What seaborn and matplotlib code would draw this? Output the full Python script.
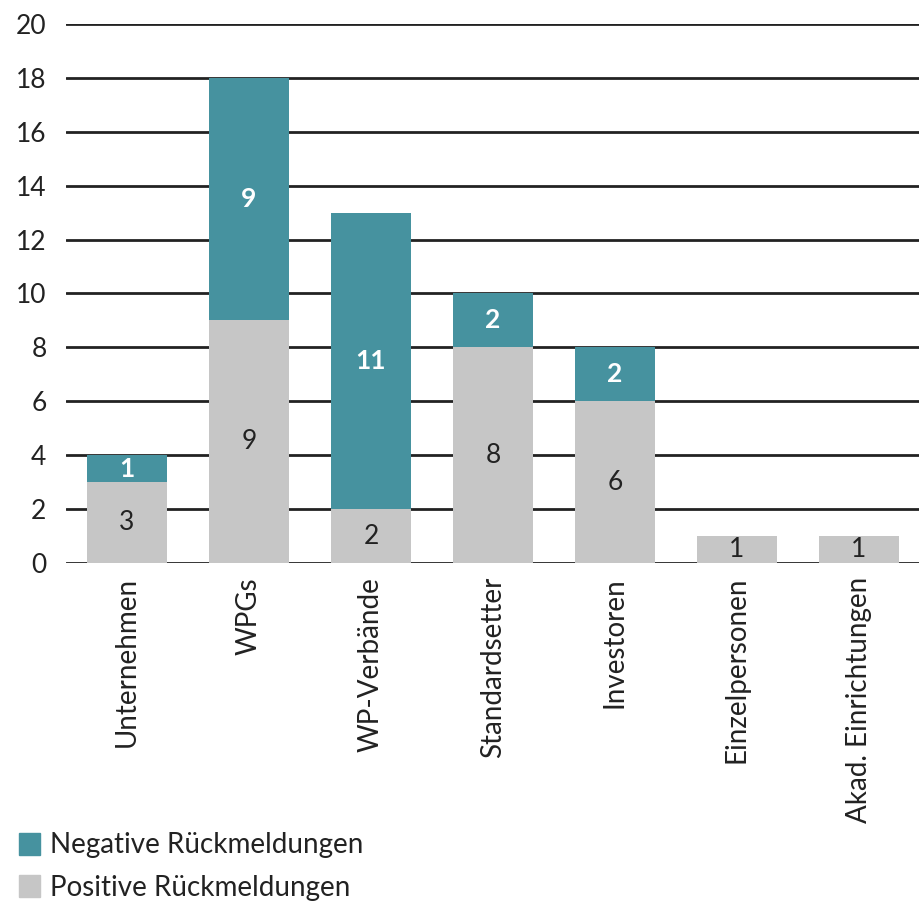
import matplotlib
matplotlib.use('Agg')
import matplotlib.pyplot as plt
import seaborn as sns
import pandas as pd
from matplotlib.patches import Patch

categories = ['Unternehmen', 'WPGs', 'WP-Verbände', 'Standardsetter',
              'Investoren', 'Einzelpersonen', 'Akad. Einrichtungen']
positive = [3, 9, 2, 8, 6, 1, 1]
negative = [1, 9, 11, 2, 2, 0, 0]
yticks = [0, 2, 4, 6, 8, 10, 12, 14, 16, 18, 20]

teal = '#46929f'
grey = '#c6c6c6'

sns.set_theme(style='white')
plt.rcParams['font.family'] = ['Lato', 'DejaVu Sans']

df = pd.DataFrame({'cat': categories, 'pos': positive, 'neg': negative})

fig = plt.figure(figsize=(9.2, 9.06), dpi=100)
ax = fig.add_axes([0.0717, 0.3786, 0.9283, 0.5949])

for y in yticks:
    ax.axhline(y, color='#222222', lw=2, zorder=0)

sns.barplot(data=df, x='cat', y='pos', color=grey, width=0.655,
            saturation=1, ax=ax, zorder=2, linewidth=0)
sns.barplot(data=df, x='cat', y='neg', bottom=df['pos'], color=teal, width=0.655,
            saturation=1, ax=ax, zorder=2, linewidth=0)

for i, (p, n) in enumerate(zip(positive, negative)):
    if p:
        ax.text(i, p / 2, str(p), ha='center', va='center', fontsize=19,
                color='#222222', zorder=3)
    if n:
        ax.text(i, p + n / 2, str(n), ha='center', va='center', fontsize=19,
                color='white', fontweight='bold', zorder=3)

ax.set_xlim(-0.5, len(categories) - 0.5)
ax.set_ylim(0, 20)
ax.set_yticks(yticks)
ax.set_xlabel('')
ax.set_ylabel('')
ax.tick_params(axis='y', labelsize=19, colors='#222222', length=0, pad=14)
ax.tick_params(axis='x', labelsize=20, colors='#222222', length=0, pad=10)
ax.set_xticks(range(len(categories)))
ax.set_xticklabels(categories, rotation=90, va='top')
sns.despine(ax=ax, left=True, bottom=True)

handles = [Patch(color=teal, label='Negative Rückmeldungen'),
           Patch(color=grey, label='Positive Rückmeldungen')]
fig.legend(handles=handles, loc='lower left', bbox_to_anchor=(-0.006, -0.022),
           frameon=False, fontsize=20, handlelength=0.75, handleheight=0.85,
           handletextpad=0.35, labelspacing=0.6, labelcolor='#222222')

fig.savefig('out.png', dpi=100)
